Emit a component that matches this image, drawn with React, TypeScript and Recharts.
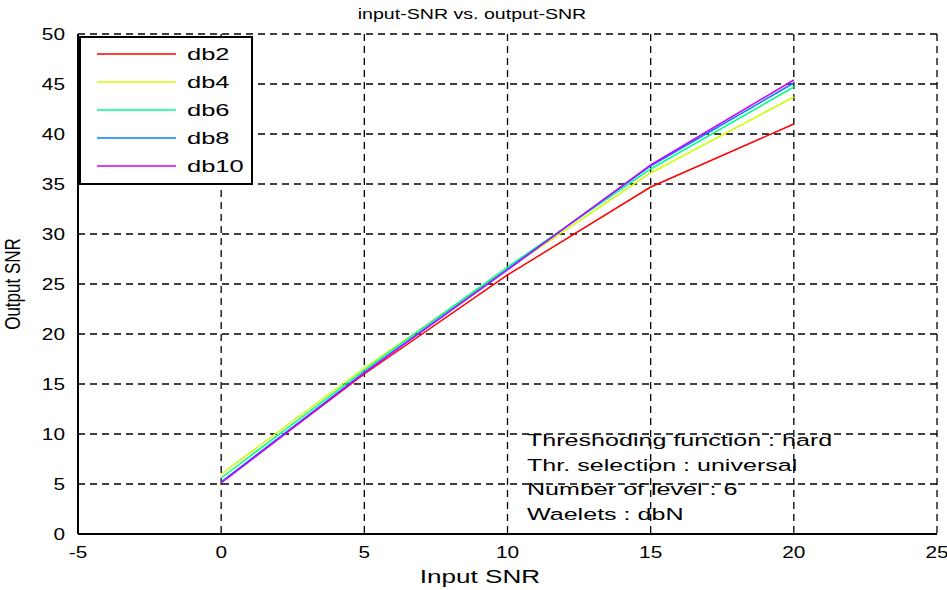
import React from "react";
import { LineChart, Line, XAxis, YAxis, CartesianGrid } from "recharts";

const inputSNR = [0, 5, 10, 15, 20];
const db2 = [5.2, 16.0, 25.9, 34.7, 41.0];
const db4 = [6.0, 16.6, 26.5, 36.1, 43.7];
const db6 = [5.6, 16.4, 26.7, 36.5, 44.7];
const db8 = [5.2, 16.2, 26.5, 36.8, 45.1];
const db10 = [5.1, 16.1, 26.4, 36.9, 45.4];
const xTicks = [-5, 0, 5, 10, 15, 20, 25];
const yTicks = [0, 5, 10, 15, 20, 25, 30, 35, 40, 45, 50];
const seriesNames = ["db2", "db4", "db6", "db8", "db10"];
const seriesColors = ["#ff0000", "#ccff00", "#00ff80", "#0080ff", "#cc00ff"];
const seriesValues = [db2, db4, db6, db8, db10];
const notes = [
  "Threshoding function : hard",
  "Thr. selection : universal",
  "Number of level : 6",
  "Waelets : dbN",
];

const data = inputSNR.map((x, i) => {
  const row: Record<string, number> = { x };
  seriesNames.forEach((n, k) => (row[n] = seriesValues[k][i]));
  return row;
});

const FONT = "'Liberation Sans', Arial, sans-serif";
const SX = 1.3;

const XTick = (props: any) => {
  const { x, y, payload } = props;
  return (
    <text
      transform={`translate(${x},${y + 16}) scale(${SX},1)`}
      textAnchor="middle"
      fontFamily={FONT}
      fontSize={16}
      fill="#000"
    >
      {payload.value}
    </text>
  );
};

const YTick = (props: any) => {
  const { x, y, payload } = props;
  return (
    <text
      transform={`translate(${x - 5},${y + 6}) scale(${SX},1)`}
      textAnchor="end"
      fontFamily={FONT}
      fontSize={16}
      fill="#000"
    >
      {payload.value}
    </text>
  );
};

export default function App() {
  return (
    <div style={{ position: "absolute", left: 0, top: 0, width: 947, height: 590, background: "#fff" }}>
      <LineChart
        width={947}
        height={590}
        data={data}
        margin={{ top: 34, right: 10, bottom: 0, left: 0 }}
      >
        <CartesianGrid stroke="#000" strokeDasharray="7 5" strokeWidth={1.3} />
        <XAxis
          dataKey="x"
          type="number"
          domain={[-5, 25]}
          ticks={xTicks}
          height={56}
          tickLine={false}
          axisLine={{ stroke: "#000", strokeWidth: 2 }}
          tick={<XTick />}
          interval={0}
        />
        <YAxis
          type="number"
          domain={[0, 50]}
          ticks={yTicks}
          width={78}
          tickLine={false}
          axisLine={{ stroke: "#000", strokeWidth: 2 }}
          tick={<YTick />}
          interval={0}
        />
        {seriesNames.map((n, i) => (
          <Line
            key={n}
            dataKey={n}
            stroke={seriesColors[i]}
            strokeWidth={1.5}
            dot={false}
            isAnimationActive={false}
          />
        ))}
      </LineChart>
      <svg
        width={947}
        height={590}
        style={{ position: "absolute", left: 0, top: 0, pointerEvents: "none" }}
      >
        <text
          transform={`translate(472,19) scale(1.4,1)`}
          textAnchor="middle"
          fontFamily={FONT}
          fontSize={14}
          fill="#000"
        >
          input-SNR vs. output-SNR
        </text>
        <text
          transform={`translate(480,583) scale(1.45,1)`}
          textAnchor="middle"
          fontFamily={FONT}
          fontSize={18}
          fill="#000"
        >
          Input SNR
        </text>
        <text
          transform={`translate(20,284) scale(${SX},1) rotate(-90)`}
          textAnchor="middle"
          fontFamily={FONT}
          fontSize={17}
          fill="#000"
        >
          Output SNR
        </text>
        <g transform="translate(80,37)">
          <rect x={0} y={0} width={172} height={147} fill="#fff" stroke="#000" strokeWidth={2} />
          {seriesNames.map((n, i) => {
            const cy = 17 + i * 28;
            return (
              <g key={n}>
                <line x1={17} x2={96} y1={cy} y2={cy} stroke={seriesColors[i]} strokeWidth={1.5} />
                <text
                  transform={`translate(107,${cy + 6}) scale(1.5,1)`}
                  fontFamily={FONT}
                  fontSize={17}
                  fill="#000"
                >
                  {n}
                </text>
              </g>
            );
          })}
        </g>
        {notes.map((t, i) => (
          <text
            key={t}
            transform={`translate(527,${446 + i * 24.5}) scale(1.52,1)`}
            fontFamily={FONT}
            fontSize={16.5}
            fill="#000"
          >
            {t}
          </text>
        ))}
      </svg>
    </div>
  );
}
